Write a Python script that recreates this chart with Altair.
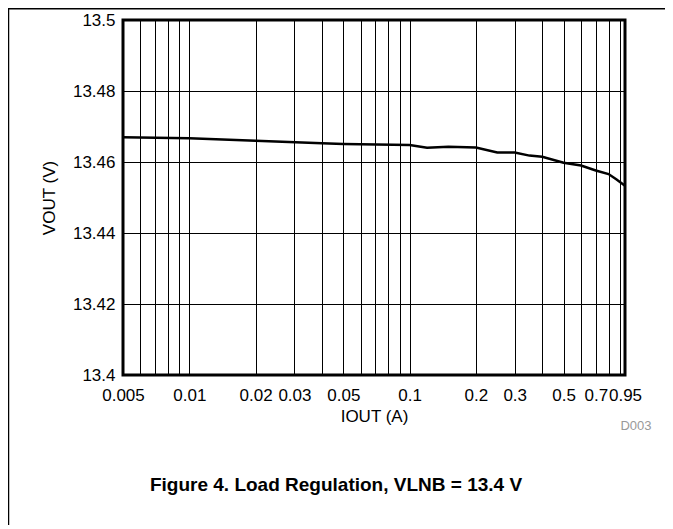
import altair as alt
import pandas as pd

# Data
iout = [0.005, 0.01, 0.02, 0.04, 0.05, 0.1, 0.12, 0.15, 0.2, 0.25, 0.3, 0.35, 0.4,
        0.5, 0.6, 0.7, 0.8, 0.87, 0.95]
vout = [13.4670, 13.4667, 13.4660, 13.4653, 13.4651, 13.4648, 13.4640, 13.4643, 13.4641,
        13.4627, 13.4627, 13.4618, 13.4615, 13.4598, 13.4590, 13.4576, 13.4566, 13.4551, 13.4533]

grid_x = [0.005, 0.006, 0.007, 0.008, 0.009, 0.01, 0.02, 0.03, 0.04, 0.05, 0.06, 0.07, 0.08, 0.09,
          0.1, 0.2, 0.3, 0.4, 0.5, 0.6, 0.7, 0.8, 0.9, 0.95]
x_labels = ["0.005", "0.01", "0.02", "0.03", "0.05", "0.1", "0.2", "0.3", "0.5", "0.7", "0.95"]
y_ticks = [13.4, 13.42, 13.44, 13.46, 13.48, 13.5]

FONT = "Liberation Sans"
df = pd.DataFrame({"IOUT": iout, "VOUT": vout})

label_list = ",".join("'" + s + "'" for s in x_labels)

line = alt.Chart(df).mark_line(color="black", strokeWidth=2.5).encode(
    x=alt.X("IOUT:Q",
            scale=alt.Scale(type="log", domain=[0.005, 0.95], nice=False),
            axis=alt.Axis(values=grid_x, format="~g",
                          labelExpr=f"indexof([{label_list}], datum.label) >= 0 ? datum.label : ''",
                          title="IOUT (A)", grid=True, gridColor="black", gridWidth=1,
                          ticks=False, domain=False, labelOverlap=False, labelBound=False,
                          labelFlush=False, labelPadding=12, titlePadding=5,
                          labelFont=FONT, labelFontSize=17, labelColor="black",
                          titleFont=FONT, titleFontSize=17, titleFontWeight="normal",
                          titleColor="black")),
    y=alt.Y("VOUT:Q",
            scale=alt.Scale(domain=[13.4, 13.5], nice=False, zero=False),
            axis=alt.Axis(values=y_ticks, format=".2~f", title="VOUT (V)",
                          grid=True, gridColor="black", gridWidth=1,
                          ticks=False, domain=False, labelPadding=8, titlePadding=14,
                          labelFont=FONT, labelFontSize=17, labelColor="black",
                          titleFont=FONT, titleFontSize=17, titleFontWeight="normal",
                          titleColor="black")),
)

one = pd.DataFrame({"a": [0]})
left_rule = alt.Chart(one).mark_rule(color="black", strokeWidth=1.5).encode(
    x=alt.value(-114.5), y=alt.value(-12), y2=alt.value(505))
top_rule = alt.Chart(one).mark_rule(color="black", strokeWidth=1.5).encode(
    x=alt.value(-115), x2=alt.value(542), y=alt.value(-11.3))

d003 = alt.Chart(pd.DataFrame({"t": ["D003"]})).mark_text(
    font=FONT, fontSize=13, color="#999999", align="center", baseline="middle").encode(
    x=alt.value(513), y=alt.value(406), text="t:N")

caption = alt.Chart(pd.DataFrame({"t": ["Figure 4. Load Regulation, VLNB = 13.4 V"]})).mark_text(
    font=FONT, fontSize=19, fontWeight="bold", color="black", align="center",
    baseline="middle").encode(
    x=alt.value(213), y=alt.value(465), text="t:N")

chart = alt.layer(line, left_rule, top_rule, d003, caption).properties(
    width=502, height=355,
    autosize=alt.AutoSizeParams(type="none"),
    padding={"left": 115, "top": 12, "right": 40, "bottom": 150},
    background="white",
).configure_view(stroke="black", strokeWidth=3)

chart.save("out.html", embed_options={"renderer": "svg", "actions": False})
